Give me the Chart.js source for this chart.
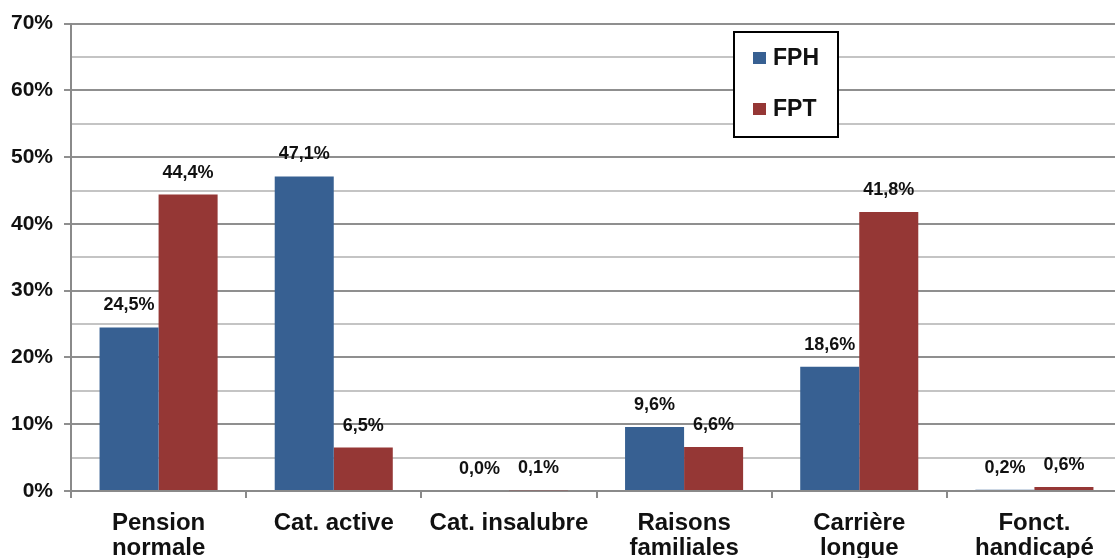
<!DOCTYPE html>
<html><head><meta charset="utf-8">
<script src="https://cdn.jsdelivr.net/npm/chart.js@4/dist/chart.umd.min.js"></script>
<style>html,body{margin:0;padding:0;background:#fff;overflow:hidden;}#wrap{width:1115px;height:558px;overflow:hidden;}</style>
</head><body><div id="wrap"><canvas id="c" width="1122" height="558"></canvas></div>
<script>
const categories = [["Pension","normale"],"Cat. active","Cat. insalubre",["Raisons","familiales"],["Carrière","longue"],["Fonct.","handicapé"]];
const seriesNames = ["FPH","FPT"];
const fphValues = [24.5, 47.1, 0.0, 9.6, 18.6, 0.2];
const fptValues = [44.4, 6.5, 0.1, 6.6, 41.8, 0.6];
const seriesColors = ["#376092", "#953735"];
const yTicks = [0,10,20,30,40,50,60,70];

const FONT = "'Liberation Sans', Arial, sans-serif";

const valueLabels = {
  id: 'valueLabels',
  afterDatasetsDraw(chart) {
    const ctx = chart.ctx;
    ctx.save();
    ctx.font = "bold 18px " + FONT;
    ctx.fillStyle = "#111";
    ctx.textAlign = "center";
    ctx.textBaseline = "middle";
    chart.data.datasets.forEach((ds, i) => {
      const meta = chart.getDatasetMeta(i);
      meta.data.forEach((bar, j) => {
        const txt = ds.data[j].toFixed(1).replace('.', ',') + '%';
        ctx.fillText(txt, bar.x, bar.y - 22);
      });
    });
    ctx.restore();
  }
};

const boxLegend = {
  id: 'boxLegend',
  afterDraw(chart) {
    const ctx = chart.ctx;
    const x = 734, y = 32, w = 104, h = 105;
    ctx.save();
    ctx.fillStyle = "#fff";
    ctx.fillRect(x, y, w, h);
    ctx.strokeStyle = "#000";
    ctx.lineWidth = 2;
    ctx.strokeRect(x, y, w, h);
    ctx.font = "bold 23px " + FONT;
    ctx.textBaseline = "middle";
    ctx.textAlign = "left";
    chart.data.datasets.forEach((ds, i) => {
      const cy = y + 26 + i * 51;
      ctx.fillStyle = ds.backgroundColor;
      ctx.fillRect(x + 19, cy - 6, 13, 12);
      ctx.fillStyle = "#111";
      ctx.fillText(ds.label, x + 39, cy + 1);
    });
    ctx.restore();
  }
};

new Chart(document.getElementById('c'), {
  type: 'bar',
  data: {
    labels: categories,
    datasets: [
      { label: seriesNames[0], data: fphValues, backgroundColor: seriesColors[0] },
      { label: seriesNames[1], data: fptValues, backgroundColor: seriesColors[1] }
    ]
  },
  options: {
    responsive: false,
    animation: false,
    layout: { padding: { top: 22, right: 0, left: 0, bottom: 0 } },
    datasets: { bar: { barPercentage: 1.0, categoryPercentage: 0.674 } },
    plugins: { legend: { display: false }, tooltip: { enabled: false } },
    scales: {
      x: {
        grid: { display: true, drawOnChartArea: false, offset: true, color: '#8a8a8a', tickLength: 7, lineWidth: 2 },
        border: { color: '#8a8a8a', width: 2 },
        ticks: { font: { family: FONT, size: 24, weight: 'bold', lineHeight: 1.05 }, color: '#111', padding: 13, maxRotation: 0, autoSkip: false },
        afterFit(scale) { scale.height = 67; }
      },
      y: {
        min: 0, max: 70,
        afterBuildTicks(scale) {
          const t = [];
          for (let v = 0; v <= 70; v += 5) t.push({ value: v });
          scale.ticks = t;
        },
        grid: {
          color: (c) => (c.tick && c.tick.value % 10 === 0) ? '#8f8f8f' : '#c4c4c4',
          tickColor: (c) => (c.tick && c.tick.value % 10 === 0) ? '#8f8f8f' : 'rgba(0,0,0,0)',
          lineWidth: 2, tickLength: 7
        },
        border: { color: '#8a8a8a', width: 2 },
        ticks: {
          font: { family: FONT, size: 21, weight: 'bold' }, color: '#111', padding: 11,
          callback: (v) => yTicks.includes(v) ? v + '%' : ''
        },
        afterFit(scale) { scale.width = 71; }
      }
    }
  },
  plugins: [valueLabels, boxLegend]
});
</script>
</body></html>
